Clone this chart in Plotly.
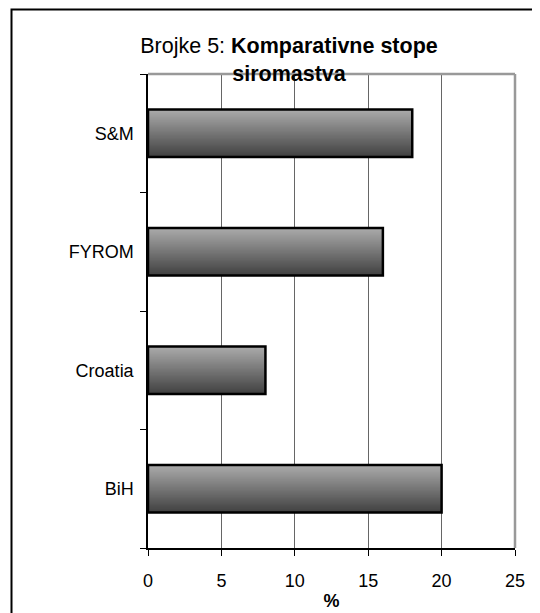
import plotly.graph_objects as go

categories = ["BiH", "Croatia", "FYROM", "S&M"]
values = [20, 8, 16, 18]
x_ticks = [0, 5, 10, 15, 20, 25]

FONT = "Arial, Liberation Sans, sans-serif"
BAR_W = 0.4
N = 40
light = (170, 170, 170)
dark = (66, 66, 66)

W, H = 532, 605  # page body has an 8px margin
ML, MR, MT, MB = 140, 25, 66, 65
PW = W - ML - MR
PH = H - MT - MB

fig = go.Figure()
# gradient: cumulative bands from each band's top edge down to the bar bottom
for i in range(N):
    t = i / (N - 1)
    c = tuple(round(light[k] + (dark[k] - light[k]) * t) for k in range(3))
    w = BAR_W * (N - i) / N
    fig.add_trace(go.Bar(
        y=categories, x=values, orientation="h",
        width=w, offset=-BAR_W / 2,
        marker=dict(color="rgb(%d,%d,%d)" % c, line=dict(width=0)),
        hoverinfo="skip", showlegend=False,
    ))
# outline
fig.add_trace(go.Bar(
    y=categories, x=values, orientation="h",
    width=BAR_W, offset=-BAR_W / 2,
    marker=dict(color="rgba(0,0,0,0)", line=dict(color="black", width=2.5)),
    showlegend=False,
))

fig.update_layout(
    width=W, height=H,
    barmode="overlay",
    paper_bgcolor="white", plot_bgcolor="white",
    margin=dict(l=ML, r=MR, t=MT, b=MB, autoexpand=False),
    font=dict(family=FONT, size=18, color="black"),
    title=dict(
        text="Brojke 5: <b>Komparativne stope</b><br><b>siromastva</b>",
        x=(289 - 8) / W, xanchor="center", xref="container",
        y=1 - 45 / H, yanchor="top", yref="container",
        font=dict(family=FONT, size=21.5, color="black"),
        automargin=False,
    ),
    xaxis=dict(
        range=[0, 25], tickvals=x_ticks,
        showgrid=True, gridcolor="#666666", gridwidth=1,
        showline=True, linecolor="black", linewidth=1.5,
        ticks="outside", ticklen=6, tickcolor="black",
        zeroline=False, automargin=False,
        ticklabelstandoff=10,
        title=dict(text="<b>%</b>", standoff=4, font=dict(size=18)),
        tickfont=dict(size=18),
    ),
    yaxis=dict(
        categoryorder="array", categoryarray=categories,
        showgrid=False, automargin=False,
        showline=True, linecolor="black", linewidth=1.5,
        ticks="outside", ticklen=6, tickcolor="black", tickson="boundaries",
        ticklabelstandoff=9,
        tickfont=dict(size=18),
    ),
    shapes=[
        dict(type="line", xref="paper", yref="paper", x0=0, x1=1, y0=1, y1=1,
             line=dict(color="#999999", width=2.5)),
        dict(type="line", xref="paper", yref="paper", x0=1, x1=1, y0=0, y1=1,
             line=dict(color="#999999", width=2.5)),
        dict(type="rect", xref="paper", yref="paper",
             x0=(3.5 - ML) / PW, x1=1.3, y0=-0.3, y1=1 + (MT - 1.5) / PH,
             line=dict(color="black", width=2), layer="below"),
    ],
)

fig.write_html("out.html")
